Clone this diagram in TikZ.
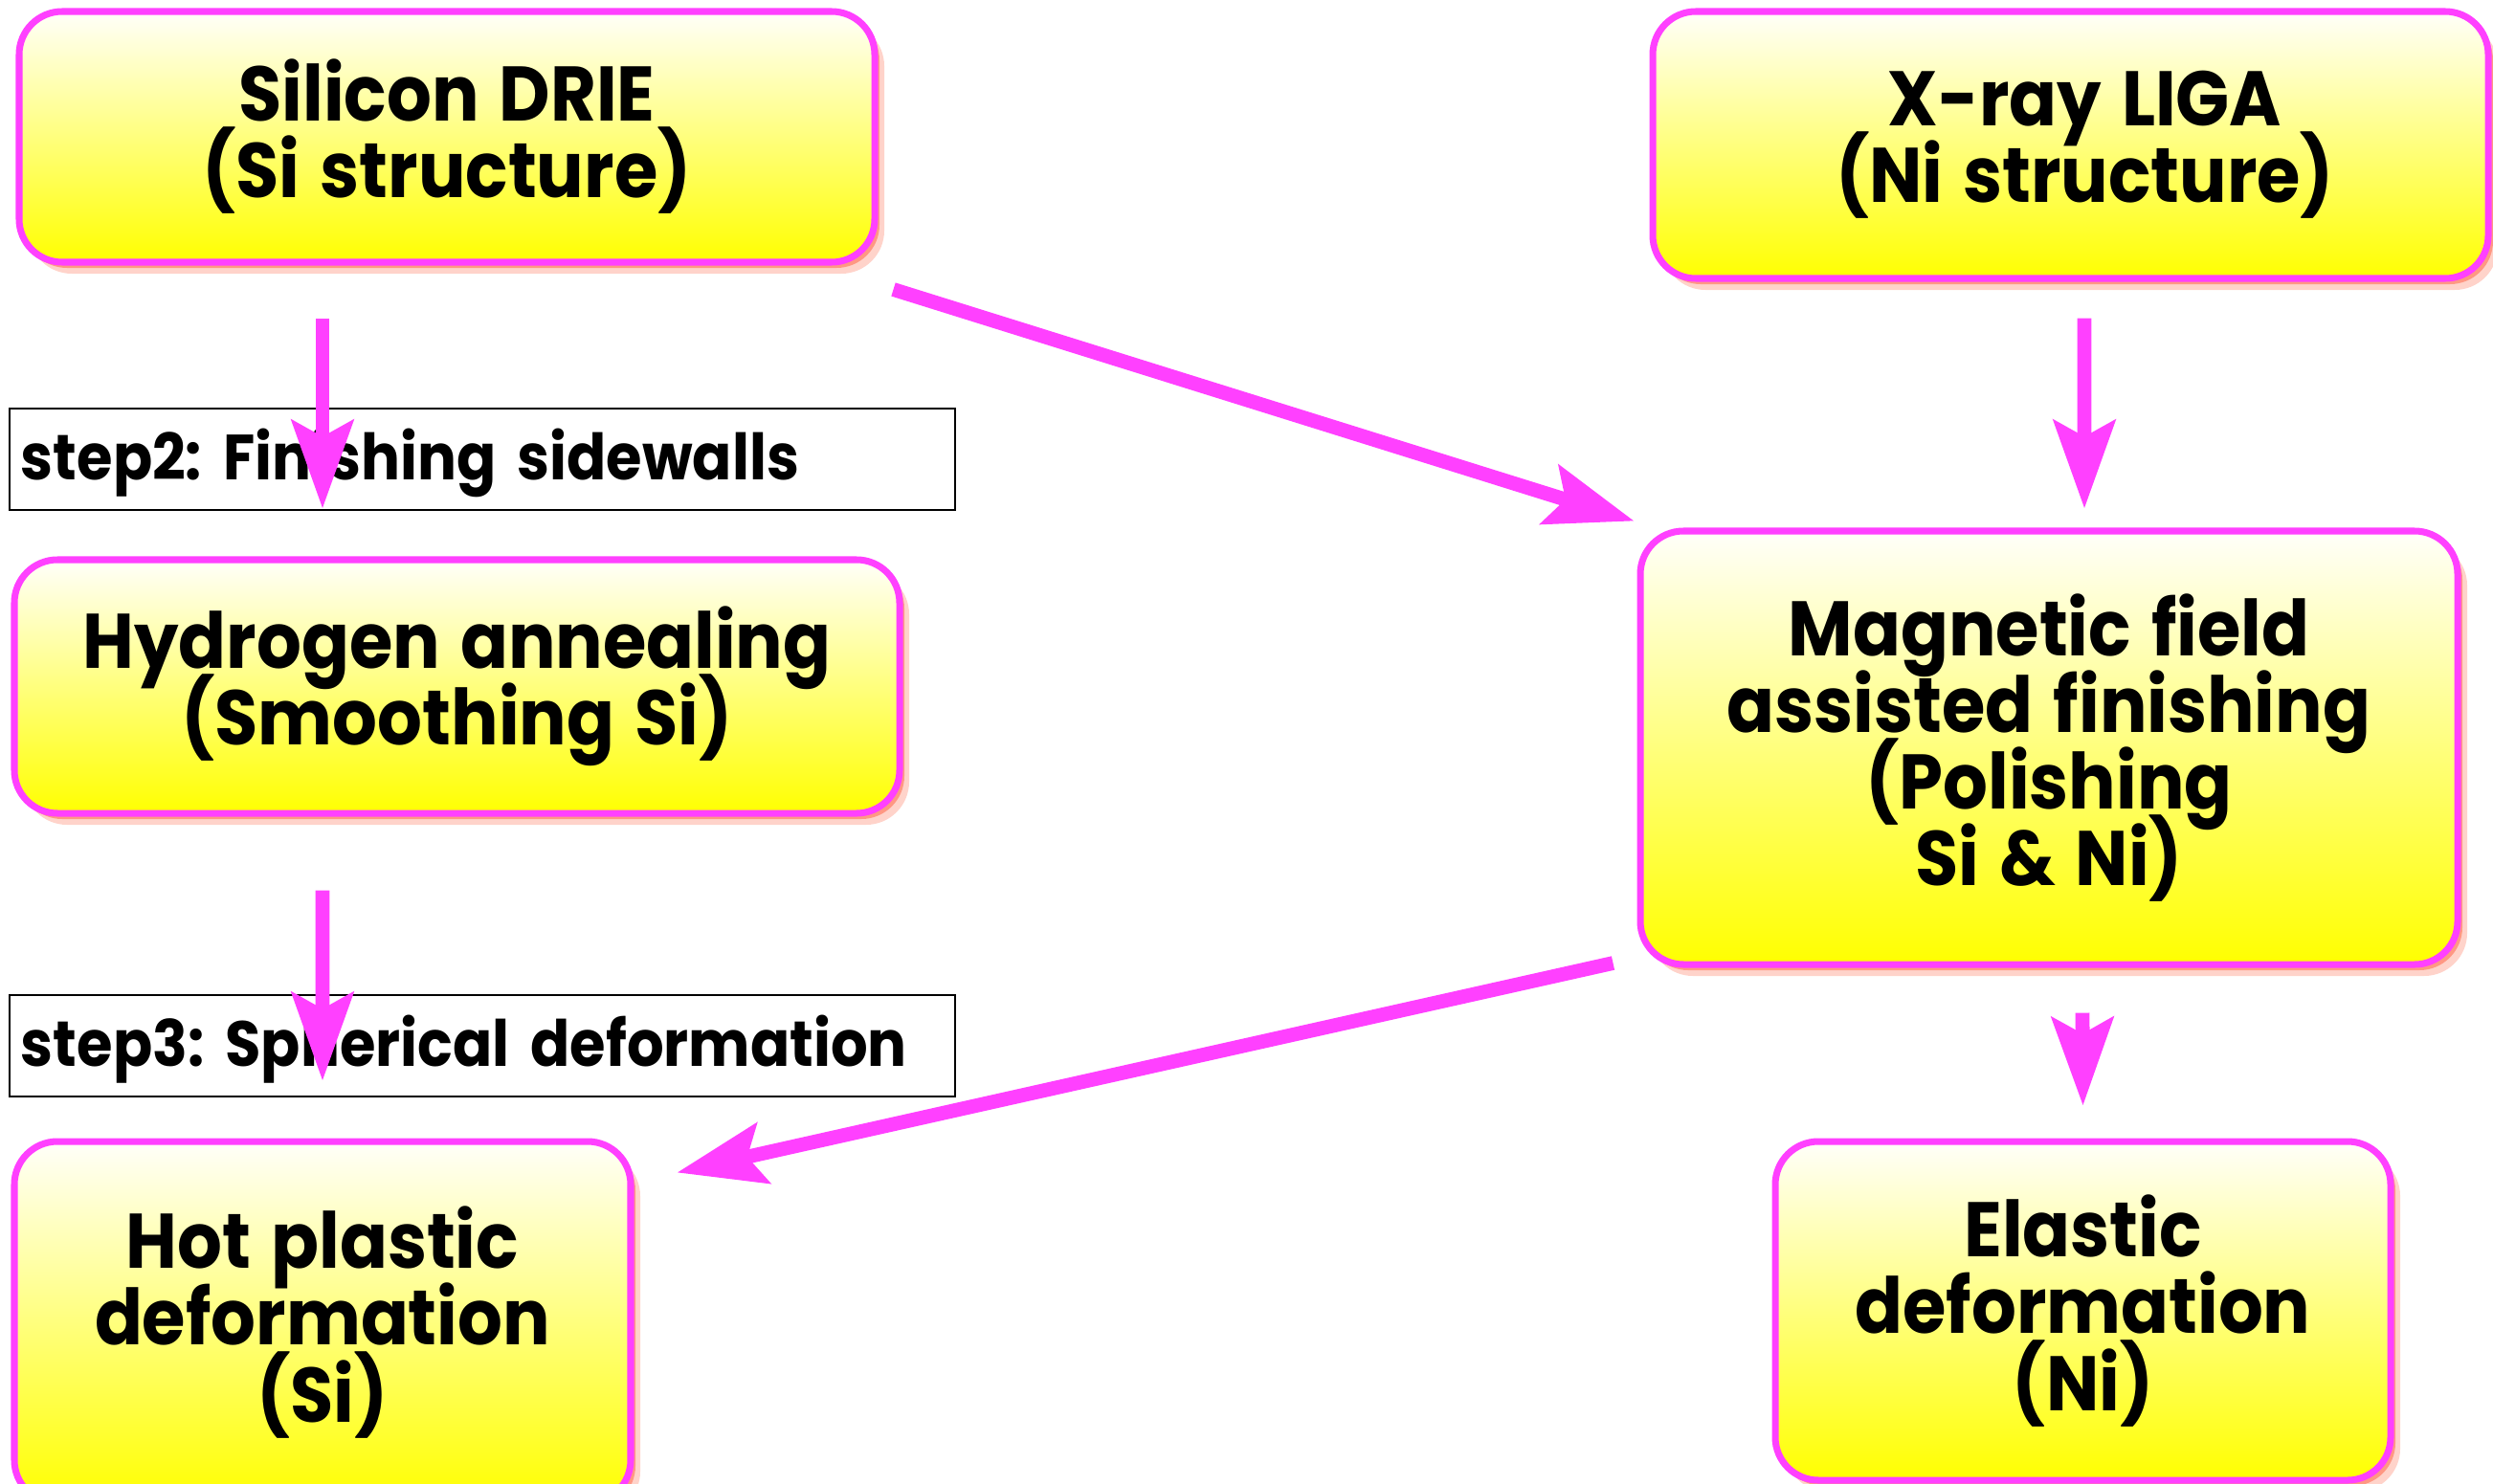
\documentclass[tikz,border=0pt]{standalone}
\usepackage{fontspec}
\newfontfamily\boxfont[FakeStretch=0.91, WordSpace=1.35]{Poppins}
\usepackage{tikz}
\usetikzlibrary{arrows.meta, shadows}

\definecolor{flowpink}{RGB}{255,64,255}
\definecolor{shadowred}{RGB}{255,80,45}
\newcommand{\boxtext}{\boxfont\bfseries\fontsize{23}{22.8}\selectfont\lineskiplimit=-100pt\relax}

\begin{document}
\frenchspacing
\begin{tikzpicture}[
  box/.style={rectangle, draw=flowpink, line width=2pt, rounded corners=0.45cm,
             top color=yellow!2, bottom color=yellow, align=center, inner sep=0pt,
             font=\boxtext,
             drop shadow={shadow xshift=0.1cm, shadow yshift=-0.12cm, fill=shadowred, opacity=0.25},
             drop shadow={shadow xshift=0.05cm, shadow yshift=-0.06cm, fill=shadowred, opacity=0.45}},
  stepbox/.style={rectangle, draw=black, line width=0.8pt, fill=white,
             minimum height=1.06cm, text width=9.64cm, inner xsep=0.12cm, align=left,
             text depth=0.1cm, font=\boxfont\bfseries\fontsize{19}{22}\selectfont},
  arrow/.style={-{Stealth[length=0.92cm, width=0.64cm, inset=0.17cm]}, line width=4.2pt, draw=flowpink}
]
\useasboundingbox (0,0) rectangle (26.05,-15.5);

\node[box, minimum width=8.94cm, minimum height=2.62cm] (drie) at (4.67,-1.43)
  {Silicon DRIE\\(Si structure)};
\node[box, minimum width=8.73cm, minimum height=2.79cm] (liga) at (21.635,-1.515)
  {\hspace*{0.3cm}X-ray LIGA\\\hspace*{0.3cm}(Ni structure)};
\node[box, minimum width=9.25cm, minimum height=2.65cm] (hydro) at (4.775,-7.175)
  {Hydrogen annealing\\(Smoothing Si)};
\node[box, minimum width=8.54cm, minimum height=4.53cm] (polish) at (21.41,-7.815)
  {Magnetic field\\assisted finishing\\(Polishing\\Si \& Ni)};
\node[box, minimum width=6.44cm, minimum height=3.78cm] (hotplastic) at (3.37,-13.82)
  {Hot plastic\\deformation\\(Si)};
\node[box, minimum width=6.43cm, minimum height=3.54cm] (elastic) at (21.765,-13.7)
  {Elastic\\deformation\\(Ni)};

\node[stepbox] (finish) at (5.04,-4.8) {step2: Finishing sidewalls};
\node[stepbox] (sphere) at (5.04,-10.93) {step3: Spherical deformation};

\draw[arrow] ([xshift=-1.3cm, yshift=-0.55cm]drie.south) -- ([xshift=-1.405cm, yshift=0.5cm]hydro.north);
\draw[arrow] ([xshift=-1.405cm, yshift=-0.77cm]hydro.south) -- ([yshift=0.6cm]hotplastic.north);
\draw[arrow] ([xshift=0.16cm, yshift=-0.25cm]drie.south east) -- ([xshift=-0.03cm, yshift=0.07cm]polish.north west);
\draw[arrow] ([xshift=0.145cm, yshift=-0.38cm]liga.south) -- ([xshift=0.37cm, yshift=0.2cm]polish.north);
\draw[arrow] ([xshift=-0.25cm, yshift=0.05cm]polish.south west) -- ([xshift=0.45cm, yshift=-0.36cm]hotplastic.north east);
\draw[arrow] ([xshift=0.35cm, yshift=-0.47cm]polish.south) -- ([yshift=0.34cm]elastic.north);

\end{tikzpicture}
\end{document}
